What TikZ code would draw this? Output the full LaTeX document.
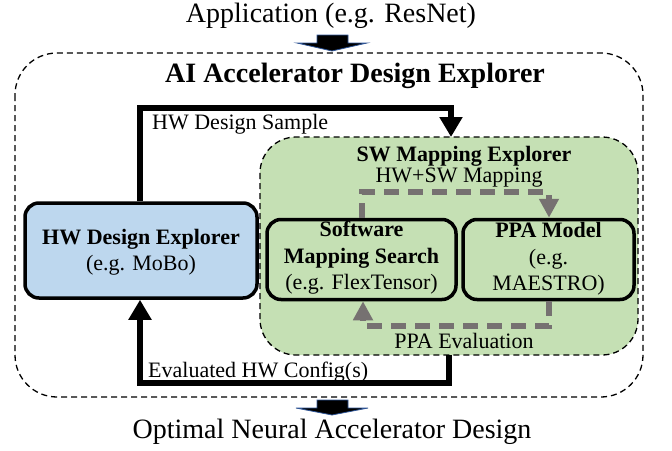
\documentclass[tikz,border=0pt]{standalone}
\usepackage{fontspec}
\setmainfont{Liberation Serif}
\usetikzlibrary{arrows.meta}
\definecolor{hwblue}{HTML}{BDD7EE}
\definecolor{swgreen}{HTML}{C5E0B4}
\definecolor{arrgray}{HTML}{767171}
\definecolor{blkedge}{HTML}{2F5597}
\tikzset{
  bigtxt/.style={font=\fontsize{28}{30}\selectfont, inner sep=0pt},
  titletxt/.style={font=\fontsize{28}{30}\selectfont\bfseries, inner sep=0pt},
  lbl/.style={font=\fontsize{22}{24}\selectfont, inner sep=0pt},
  boxtxt/.style={font=\fontsize{22}{26.5}\selectfont, align=center, inner sep=0pt},
  solidbox/.style={draw=black, line width=3.5pt, rounded corners=14pt},
  dashbox/.style={draw=black, dash pattern=on 6pt off 4pt, line width=1.3pt},
  flow/.style={draw=black, line width=6pt, -{Triangle[width=22pt,length=20pt]}},
  gflow/.style={draw=arrgray, line width=6pt, dash pattern=on 15pt off 9pt, -{Triangle[width=19pt,length=19pt]}},
  blockarrow/.style={fill=black, draw=blkedge, line width=0.8pt}
}
\begin{document}
\begin{tikzpicture}[x=1pt,y=-1pt]
\useasboundingbox (0,0) rectangle (672,450);
% outer explorer
\draw[dashbox, rounded corners=42pt] (15,53) rectangle (643,397);
\node[titletxt] (title) at (355,76) {AI Accelerator Design Explorer};
% SW mapping explorer
\draw[dashbox, fill=swgreen, rounded corners=36pt] (260,137) rectangle (638,355);
\coordinate (swtop) at (451,137);
\coordinate (swbot) at (449,355);
\node[font=\fontsize{22}{24}\selectfont\bfseries, inner sep=0pt] (swt) at (464,156) {SW Mapping Explorer};
% HW box
\node[solidbox, fill=hwblue, minimum width=232pt, minimum height=95pt] (hw) at (141,250.5) {};
\node[boxtxt] at (141,252) {\textbf{HW Design Explorer}\\(e.g. MoBo)};
% Software mapping search
\node[solidbox, fill=swgreen, minimum width=189pt, minimum height=80pt] (sms) at (361.5,259.5) {};
\node[boxtxt] at (361.5,258) {\textbf{Software}\\\textbf{Mapping Search}\\(e.g. FlexTensor)};
% PPA model
\node[solidbox, fill=swgreen, minimum width=171pt, minimum height=80pt] (ppa) at (548.5,259.5) {};
\node[boxtxt] at (548.5,259) {\textbf{PPA Model}\\(e.g.\\MAESTRO)};
% HW design sample
\draw[flow] (hw.north -| 140,0) |- (451,108) -- (swtop);
\node[lbl, anchor=west] (hds) at (152,124) {HW Design Sample};
% evaluated HW config
\draw[flow] (swbot) |- (140,383) -- (hw.south -| 140,0);
\node[lbl, anchor=west] (ehc) at (148,372) {Evaluated HW Config(s)};
% HW+SW mapping
\draw[gflow] (sms.north -| 362,0) |- (549,192) -- (ppa.north -| 549,0);
\node[lbl] (hwsw) at (459,178) {HW+SW Mapping};
% PPA evaluation
\draw[gflow] (ppa.south -| 549,0) |- (363,326) -- (sms.south -| 363,0);
\node[lbl] (ppae) at (464,341) {PPA Evaluation};
% top text and block arrow
\node[bigtxt] (app) at (331,16) {Application (e.g. ResNet)};
\draw[blockarrow] (317,35) -- (348,35) -- (348,43) -- (367,43) -- (332,51) -- (297,43) -- (317,43) -- cycle;
% bottom
\draw[blockarrow] (317,400) -- (348,400) -- (348,408) -- (368,408) -- (332,415) -- (296,408) -- (317,408) -- cycle;
\node[bigtxt] (out) at (332,432) {Optimal Neural Accelerator Design};
\end{tikzpicture}
\end{document}
